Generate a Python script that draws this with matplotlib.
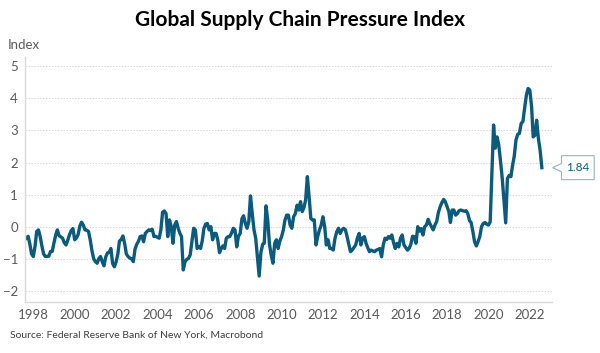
import matplotlib
matplotlib.use("Agg")
import matplotlib.pyplot as plt
from matplotlib.path import Path
import pandas as pd

plt.rcParams['font.family'] = ['Lato', 'DejaVu Sans']

# GSCPI, monthly, Sep 1997 - Aug 2022
gscpi = [
    -0.36, -0.30, -0.55, -0.85,                                                  # 1997 (Sep-Dec)
    -0.93, -0.60, -0.15, -0.10, -0.30, -0.60, -0.85, -0.93, -0.93, -0.92, -0.77, -0.77,  # 1998
    -0.50, -0.25, -0.10, -0.28, -0.32, -0.36, -0.50, -0.57, -0.42, -0.25, -0.12, -0.06,  # 1999
    -0.41, -0.35, -0.25, 0.02, 0.14, 0.05, -0.10, -0.11, -0.15, -0.41, -0.75, -1.00,     # 2000
    -1.09, -1.14, -1.00, -0.93, -1.09, -1.22, -0.95, -0.82, -0.80, -0.68, -1.15, -1.25,  # 2001
    -1.10, -0.85, -0.45, -0.40, -0.29, -0.52, -0.85, -0.93, -0.98, -1.00, -1.09, -0.70,  # 2002
    -0.55, -0.45, -0.31, -0.29, -0.47, -0.21, -0.15, -0.10, -0.12, -0.08, -0.31, -0.30,  # 2003
    -0.33, -0.36, -0.10, 0.45, 0.49, 0.41, -0.31, 0.21, 0.00, -0.52, 0.05, 0.16,        # 2004
    -0.05, -0.21, -0.31, -1.35, -1.10, -1.02, -0.99, -0.88, -0.47, -0.05, -0.10, -0.68,  # 2005
    -0.62, -0.68, -0.45, -0.05, 0.08, 0.10, -0.10, 0.00, -0.41, -0.21, -0.21, -0.41,     # 2006
    -0.81, -0.68, -0.60, -0.68, -0.36, -0.31, -0.31, -0.20, -0.05, -0.10, -0.63, -0.30,  # 2007
    -0.21, 0.25, 0.34, 0.10, -0.05, 0.16, 0.96, 0.40, -0.10, -0.36, -0.95, -1.54,        # 2008
    -0.80, -0.55, -0.52, 0.65, 0.21, -0.55, -0.88, -1.14, -0.52, -0.41, -0.68, -0.45,    # 2009
    -0.31, -0.10, 0.20, 0.36, 0.36, 0.05, -0.05, 0.31, 0.41, 0.67, 0.52, 0.78,           # 2010
    0.47, 0.60, 0.83, 1.56, 0.95, 0.26, 0.21, 0.21, -0.57, -0.30, -0.10, 0.05,           # 2011
    0.31, 0.00, -0.57, -0.41, -0.68, -0.68, -0.73, -0.36, -0.16, -0.05, -0.21, -0.10,    # 2012
    -0.05, -0.10, -0.30, -0.55, -0.78, -0.73, -0.65, -0.57, -0.35, -0.21, -0.57, -0.36,  # 2013
    -0.31, -0.52, -0.65, -0.78, -0.73, -0.76, -0.78, -0.73, -0.71, -0.68, -0.94, -0.57,  # 2014
    -0.36, -0.40, -0.31, -0.36, -0.26, -0.50, -0.68, -0.52, -0.63, -0.36, -0.26, -0.57,  # 2015
    -0.65, -0.73, -0.68, -0.55, -0.30, -0.31, -0.52, 0.00, -0.14, -0.06, -0.26, 0.00,    # 2016
    0.05, 0.23, 0.10, 0.00, -0.10, 0.05, 0.16, 0.45, 0.62, 0.75, 0.85, 0.78,             # 2017
    0.62, 0.47, 0.13, 0.52, 0.52, 0.36, 0.41, 0.50, 0.52, 0.50, 0.48, 0.50,              # 2018
    0.41, 0.19, 0.13, -0.15, -0.47, -0.60, -0.47, -0.31, 0.00, 0.10, 0.13, 0.08,         # 2019
    0.05, 0.15, 1.60, 3.17, 2.45, 2.80, 2.55, 2.05, 1.50, 0.80, 0.12, 1.50,              # 2020
    1.60, 1.56, 1.90, 2.20, 2.70, 2.88, 2.91, 3.22, 3.28, 3.70, 4.10, 4.31,              # 2021
    4.26, 3.74, 2.80, 2.85, 3.32, 2.75, 2.39, 1.84,                                      # 2022 (Jan-Aug)
]
dates = pd.date_range('1997-09-01', periods=len(gscpi), freq='MS')
year_ticks = list(range(1998, 2023, 2))
y_ticks = [-2, -1, 0, 1, 2, 3, 4, 5]

line_col = '#0d5b7c'
grey = '#595959'


# callout shape: box with a small pointer on its left side
def tag_box(x0, y0, width, height, mutation_size):
    padx = 0.4 * mutation_size
    pady = 0.55 * mutation_size
    x0, y0 = x0 - padx, y0 - pady
    x1, y1 = x0 + width + 2 * padx, y0 + height + 2 * pady
    ym = (y0 + y1) / 2
    tip = 0.75 * mutation_size
    half = 0.35 * mutation_size
    verts = [(x0, y0), (x1, y0), (x1, y1), (x0, y1), (x0, ym + half),
             (x0 - tip, ym), (x0, ym - half), (x0, y0), (x0, y0)]
    codes = [Path.MOVETO] + [Path.LINETO] * 7 + [Path.CLOSEPOLY]
    return Path(verts, codes)


fig = plt.figure(figsize=(6, 3.53), dpi=100)
ax = fig.add_axes([0.0417, 0.1453, 0.8778, 0.694])

ax.plot(dates, gscpi, color=line_col, lw=2.4, solid_joinstyle='round')

ax.set_ylim(-2.34, 5.3)
ax.set_xlim(pd.Timestamp('1997-08-07'), pd.Timestamp('2023-01-22'))
ax.set_yticks(y_ticks)
ax.set_xticks([pd.Timestamp(f'{y}-01-01') for y in year_ticks])
ax.set_xticklabels([str(y) for y in year_ticks])
ax.tick_params(axis='both', length=0, labelsize=9.5, labelcolor=grey)
ax.tick_params(axis='x', pad=5)
ax.tick_params(axis='y', pad=5)

ax.grid(axis='y', linestyle=(0, (1.5, 1.5)), color='#d6d6d6', lw=0.7)
ax.grid(axis='x', visible=False)
for s in ['top', 'right']:
    ax.spines[s].set_visible(False)
for s in ['left', 'bottom']:
    ax.spines[s].set_color('#d9d9d9')
    ax.spines[s].set_linewidth(1.0)

# last value callout
ax.annotate(f'{gscpi[-1]:.2f}', xy=(dates[-1], gscpi[-1]), xytext=(36, 0),
            textcoords='offset pixels', ha='center', va='center',
            fontsize=8.5, color=line_col,
            bbox=dict(boxstyle=tag_box, fc='white', ec='#8fb5c6', lw=0.8))

fig.text(0.5, 1 - 20 / 353, 'Global Supply Chain Pressure Index', ha='center', va='center',
         fontsize=15, fontweight='bold', color='black')
fig.text(8 / 600, 1 - 45 / 353, 'Index', ha='left', va='center', fontsize=9.5, color=grey)
fig.text(10 / 600, 1 - 335 / 353, 'Source: Federal Reserve Bank of New York, Macrobond',
         ha='left', va='center', fontsize=7.5, color='#404040')

fig.savefig('out.png', dpi=100)
